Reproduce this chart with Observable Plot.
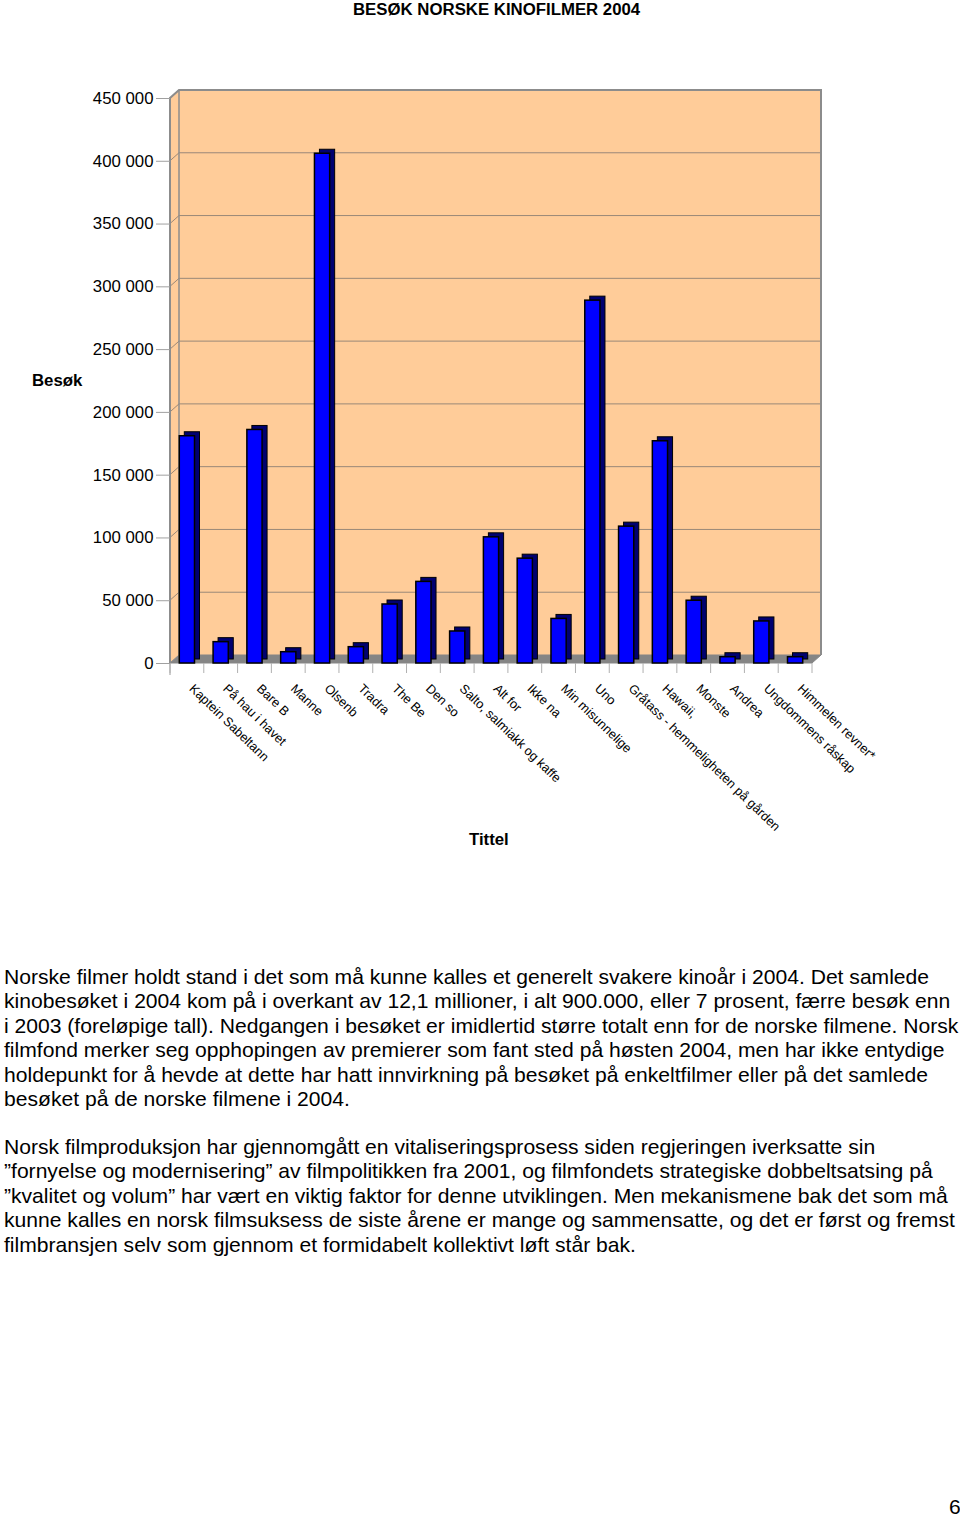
<!DOCTYPE html>
<html>
<head>
<meta charset="utf-8">
<script src="https://cdn.jsdelivr.net/npm/d3@7"></script>
<script src="https://cdn.jsdelivr.net/npm/@observablehq/plot@0.6"></script>
<style>
  html, body { margin: 0; padding: 0; background: #fff; }
  body { width: 960px; height: 1515px; position: relative; overflow: hidden; font-family: "Liberation Sans", Arial, sans-serif; color: #000; }
  .abs { position: absolute; white-space: nowrap; }
  #title { top: 0; left: 353px; font-weight: bold; font-size: 16.8px; line-height: 19px; }
  #chart { position: absolute; top: 22px; left: 0; }
  #ylab { top: 371px; left: 32px; font-weight: bold; font-size: 16.8px; }
  #xlab { top: 830px; left: 469px; font-weight: bold; font-size: 16.8px; }
  .para { position: absolute; left: 4px; font-size: 21.1px; line-height: 24.4px; white-space: nowrap; }
  #p1 { top: 965px; }
  #p2 { top: 1135px; }
  #page { top: 1495px; left: 949px; font-size: 21px; }
</style>
</head>
<body>
<div id="title" class="abs">BESØK NORSKE KINOFILMER 2004</div>
<div id="chart"></div>
<div id="ylab" class="abs">Besøk</div>
<div id="xlab" class="abs">Tittel</div>
<div id="p1" class="para">Norske filmer holdt stand i det som må kunne kalles et generelt svakere kinoår i 2004. Det samlede<br>kinobesøket i 2004 kom på i overkant av 12,1 millioner, i alt 900.000, eller 7 prosent, færre besøk enn<br>i 2003 (foreløpige tall). Nedgangen i besøket er imidlertid større totalt enn for de norske filmene. Norsk<br>filmfond merker seg opphopingen av premierer som fant sted på høsten 2004, men har ikke entydige<br>holdepunkt for å hevde at dette har hatt innvirkning på besøket på enkeltfilmer eller på det samlede<br>besøket på de norske filmene i 2004.</div>
<div id="p2" class="para">Norsk filmproduksjon har gjennomgått en vitaliseringsprosess siden regjeringen iverksatte sin<br>”fornyelse og modernisering” av filmpolitikken fra 2001, og filmfondets strategiske dobbeltsatsing på<br>”kvalitet og volum” har vært en viktig faktor for denne utviklingen. Men mekanismene bak det som må<br>kunne kalles en norsk filmsuksess de siste årene er mange og sammensatte, og det er først og fremst<br>filmbransjen selv som gjennom et formidabelt kollektivt løft står bak.</div>
<div id="page" class="abs">6</div>
<script>
// ---- data ----
const films = [
  "Kaptein Sabeltann", "På hau i havet", "Bare B", "Manne", "Olsenb", "Tradra",
  "The Be", "Den so", "Salto, salmiakk og kaffe", "Alt for", "Ikke na",
  "Min misunnelige", "Uno", "Gråtass - hemmeligheten på gården", "Hawaii,",
  "Monste", "Andrea", "Ungdommens råskap", "Himmelen revner*"
];
const visits = [
  181000, 17000, 186000, 9000, 406000, 13000,
  47000, 65000, 25500, 100500, 83500,
  35500, 289000, 109000, 177000,
  50000, 5000, 33500, 5000
];
const yTicks = [0, 50000, 100000, 150000, 200000, 250000, 300000, 350000, 400000, 450000];

const data = films.map((f, i) => ({film: f, visits: visits[i]}));

// ---- styling constants ----
const DX = 9, DY = -8;          // 3-D depth offset
const PEACH = "#ffcc99";
const WALL = "#8c8c8c";
const GRID = "#9a8878";

function box(index, scales, values, dims) {
  const {x, y} = scales;
  const L = dims.marginLeft, R = dims.width - dims.marginRight;
  const T = dims.marginTop, B = dims.height - dims.marginBottom;
  const g = d3.create("svg:g");
  g.append("path")
    .attr("d", `M${L},${T}L${L+DX},${T+DY}L${L+DX},${B+DY}L${L},${B}Z`)
    .attr("fill", PEACH).attr("stroke", "none");
  g.append("rect")
    .attr("x", L+DX).attr("y", T+DY).attr("width", R-L).attr("height", B-T)
    .attr("fill", PEACH).attr("stroke", "none");
  for (const t of yTicks) {
    if (t === 0) continue;
    const yy = y(t);
    g.append("path")
      .attr("d", `M${L},${yy}L${L+DX},${yy+DY}L${R+DX},${yy+DY}`)
      .attr("fill", "none").attr("stroke", GRID).attr("stroke-width", 1);
  }
  g.append("path")
    .attr("d", `M${L},${B}L${R},${B}L${R+DX},${B+DY}L${L+DX},${B+DY}Z`)
    .attr("fill", "#858585").attr("stroke", "#858585").attr("stroke-width", 1);
  g.append("path")
    .attr("d", `M${L},${B}L${L},${T}L${L+DX},${T+DY}L${R+DX},${T+DY}L${R+DX},${B+DY}`)
    .attr("fill", "none").attr("stroke", WALL).attr("stroke-width", 2);
  g.append("path")
    .attr("d", `M${L+DX},${T+DY}L${L+DX},${B+DY}`)
    .attr("fill", "none").attr("stroke", WALL).attr("stroke-width", 1.5);
  const step = x.step ? x.step() : (R - L) / films.length;
  const x0 = x(films[0]) - x.paddingOuter() * step;
  g.append("path")
    .attr("d", `M${L},${B}L${L},${B+12}`)
    .attr("stroke", "#999").attr("fill", "none");
  for (let i = 0; i <= films.length; i++) {
    const xx = x0 + i * step;
    g.append("path")
      .attr("d", `M${xx},${B}L${xx},${B+10}`)
      .attr("stroke", "#b0b0b0").attr("fill", "none");
  }
  return g.node();
}

const fmt = d => d3.format(",")(d).replace(/,/g, " ");

const plot = Plot.plot({
  width: 960,
  height: 908,
  marginLeft: 170,
  marginRight: 148,
  marginTop: 76,
  marginBottom: 267,
  style: {fontFamily: "'Liberation Sans', Arial, sans-serif", background: "transparent"},
  x: {type: "band", domain: films, paddingInner: 0.55, paddingOuter: 0.275, align: 0.5, round: false, axis: null},
  y: {domain: [0, 450000], axis: null},
  marks: [
    box,
    Plot.barY(data, {x: "film", y: "visits", fill: "#000070", stroke: "#000", strokeWidth: 1, dx: 5, dy: -4}),
    Plot.barY(data, {x: "film", y: "visits", fill: "#0000ff", stroke: "#000", strokeWidth: 1.5}),
    Plot.axisY(yTicks, {
      anchor: "left", tickSize: 14, tickPadding: 3, tickFormat: fmt,
      fontSize: 16.8, stroke: "#a0a0a0", fill: "#000", label: null
    }),
    Plot.text(data, {
      x: "film", frameAnchor: "bottom", text: "film", rotate: 44,
      textAnchor: "start", lineAnchor: "middle", dx: 4, dy: 23, fontSize: 12.8, fill: "#000"
    })
  ]
});
document.getElementById("chart").appendChild(plot);
</script>
</body>
</html>
